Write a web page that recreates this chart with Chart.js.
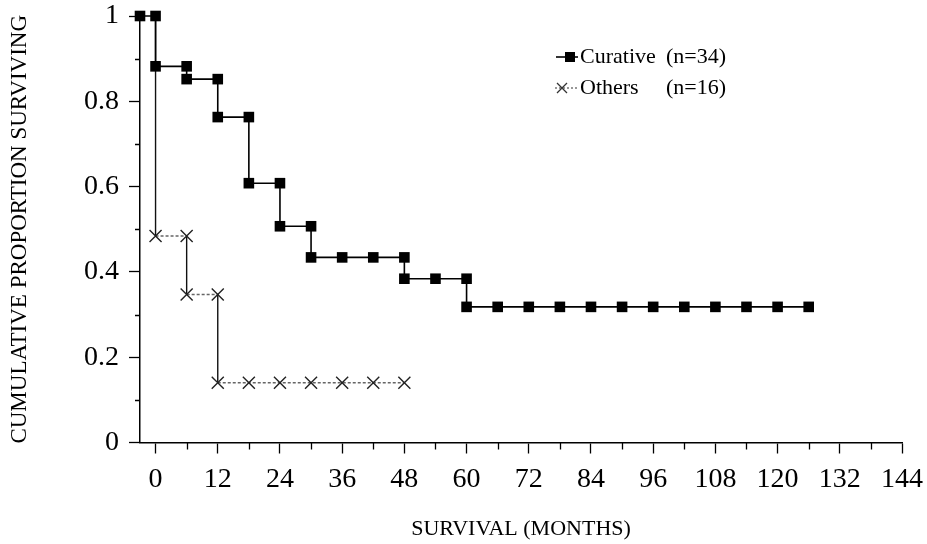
<!DOCTYPE html>
<html>
<head>
<meta charset="utf-8">
<title>Cumulative proportion surviving</title>
<script src="https://cdn.jsdelivr.net/npm/chart.js@4.4.1/dist/chart.umd.min.js"></script>
<style>
  html, body { margin: 0; padding: 0; background: #fff; }
  #wrap { width: 927px; height: 544px; }
</style>
</head>
<body>
<div id="wrap"><canvas id="survivalChart" width="927" height="544"></canvas></div>
<script>
// Kaplan-Meier steps: every drop is listed twice (before / after) so a marker sits on both corners
const curativeMonths = [-3, 0, 0, 6, 6, 12, 12, 18, 18, 24, 24, 30, 30, 36, 42, 48, 48, 54, 60, 60,
    66, 72, 78, 84, 90, 96, 102, 108, 114, 120, 126];
const curativeSurvival = [1, 1, 0.882, 0.882, 0.852, 0.852, 0.763, 0.763, 0.608, 0.608, 0.507, 0.507,
    0.434, 0.434, 0.434, 0.434, 0.384, 0.384, 0.384, 0.318,
    0.318, 0.318, 0.318, 0.318, 0.318, 0.318, 0.318, 0.318, 0.318, 0.318, 0.318];

const othersMonths = [0, 0, 6, 6, 12, 12, 18, 24, 30, 36, 42, 48];
const othersSurvival = [1, 0.484, 0.484, 0.347, 0.347, 0.14, 0.14, 0.14, 0.14, 0.14, 0.14, 0.14];

const legendLabels = ['Curative', 'Others'];
const legendCounts = ['(n=34)', '(n=16)'];

const xTickValues = [0, 6, 12, 18, 24, 30, 36, 42, 48, 54, 60, 66, 72, 78, 84, 90, 96, 102, 108,
    114, 120, 126, 132, 138, 144];
const yTickValues = [0, 0.1, 0.2, 0.3, 0.4, 0.5, 0.6, 0.7, 0.8, 0.9, 1];

const serif = '"Liberation Serif", "Times New Roman", serif';

function toPoints(xs, ys) {
    return xs.map((x, i) => ({ x: x, y: ys[i] }));
}

// short minor ticks (6 months / 0.1) that Chart.js can't size separately
const minorTicks = {
    id: 'minorTicks',
    afterDraw(chart) {
        const ctx = chart.ctx;
        const xs = chart.scales.x;
        const ys = chart.scales.y;
        ctx.save();
        ctx.strokeStyle = '#000';
        ctx.lineWidth = 1.3;
        ctx.beginPath();
        xTickValues.filter(v => v % 12 !== 0).forEach(v => {
            const px = Math.round(xs.getPixelForValue(v)) + 0.5;
            ctx.moveTo(px, xs.top);
            ctx.lineTo(px, xs.top + 7);
        });
        yTickValues.filter((v, i) => i % 2 === 1).forEach(v => {
            const py = Math.round(ys.getPixelForValue(v)) + 0.5;
            ctx.moveTo(ys.right - 5, py);
            ctx.lineTo(ys.right, py);
        });
        ctx.stroke();
        ctx.restore();
    }
};

// legend in the top right corner of the plot, like the original figure
const cornerLegend = {
    id: 'cornerLegend',
    afterDraw(chart) {
        const ctx = chart.ctx;
        ctx.save();
        ctx.font = '22px ' + serif;
        ctx.textBaseline = 'middle';
        ctx.fillStyle = '#000';
        legendLabels.forEach((label, i) => {
            const y = 57 + i * 31;
            if (i === 0) {
                ctx.strokeStyle = '#000';
                ctx.lineWidth = 1.6;
                ctx.beginPath();
                ctx.moveTo(556, y);
                ctx.lineTo(578, y);
                ctx.stroke();
                ctx.fillRect(565, y - 5, 10, 10);
            } else {
                ctx.strokeStyle = '#777';
                ctx.lineWidth = 1.3;
                ctx.setLineDash([2, 2]);
                ctx.beginPath();
                ctx.moveTo(555, y);
                ctx.lineTo(577, y);
                ctx.stroke();
                ctx.setLineDash([]);
                ctx.strokeStyle = '#333';
                ctx.beginPath();
                ctx.moveTo(557, y - 5);
                ctx.lineTo(567, y + 5);
                ctx.moveTo(567, y - 5);
                ctx.lineTo(557, y + 5);
                ctx.stroke();
            }
            ctx.fillText(label, 580, y);
            ctx.fillText(legendCounts[i], 666, y);
        });
        ctx.restore();
    }
};

function initChart() {
    let ctx = document.getElementById('survivalChart').getContext('2d');
    new Chart(ctx, {
        type: 'line',
        data: {
            datasets: [
                {
                    label: legendLabels[0],
                    data: toPoints(curativeMonths, curativeSurvival),
                    borderColor: '#000',
                    borderWidth: 1.6,
                    pointStyle: 'rect',
                    pointRadius: 7.5,
                    pointBackgroundColor: '#000',
                    pointBorderColor: '#000',
                    pointBorderWidth: 0,
                    clip: false,
                    order: 0
                },
                {
                    label: legendLabels[1],
                    data: toPoints(othersMonths, othersSurvival),
                    borderColor: '#666',
                    borderWidth: 1.4,
                    borderDash: [3, 2],
                    segment: {
                        // vertical drops print solid, the flat parts dotted
                        borderDash: c => c.p0.parsed.x === c.p1.parsed.x ? [] : [3, 2],
                        borderColor: c => c.p0.parsed.x === c.p1.parsed.x ? '#111' : '#666'
                    },
                    pointStyle: 'crossRot',
                    pointRadius: c => (c.raw && c.raw.y === 1) ? 0 : 8.5,
                    pointBorderColor: '#222',
                    pointBorderWidth: 1.4,
                    pointBackgroundColor: 'transparent',
                    clip: false,
                    order: 1
                }
            ]
        },
        options: {
            responsive: false,
            animation: false,
            events: [],
            layout: { padding: { top: 16, right: 25, left: 0, bottom: 0 } },
            plugins: {
                legend: { display: false },
                tooltip: { enabled: false }
            },
            scales: {
                x: {
                    type: 'linear',
                    min: -3,
                    max: 144,
                    afterBuildTicks: scale => { scale.ticks = xTickValues.map(v => ({ value: v })); },
                    afterFit: scale => {
                        scale.height = 101.5;
                        scale.paddingLeft = 0;
                        scale.paddingRight = 0;
                    },
                    border: { color: '#000', width: 1.5 },
                    grid: {
                        drawOnChartArea: false,
                        tickLength: 11,
                        tickWidth: 1.3,
                        tickColor: c => (c.tick && c.tick.value % 12 === 0) ? '#000' : 'rgba(0,0,0,0)'
                    },
                    ticks: {
                        autoSkip: false,
                        maxRotation: 0,
                        padding: 9,
                        color: '#000',
                        font: { family: serif, size: 28 },
                        callback: value => value % 12 === 0 ? String(value) : ''
                    },
                    title: {
                        display: true,
                        text: 'SURVIVAL (MONTHS)',
                        color: '#000',
                        font: { family: serif, size: 22 },
                        padding: { top: 0, bottom: 2 }
                    }
                },
                y: {
                    type: 'linear',
                    min: 0,
                    max: 1,
                    afterBuildTicks: scale => { scale.ticks = yTickValues.map(v => ({ value: v })); },
                    afterFit: scale => {
                        scale.width = 140;
                        scale.paddingTop = 0;
                        scale.paddingBottom = 0;
                    },
                    border: { color: '#000', width: 1.5 },
                    grid: {
                        drawOnChartArea: false,
                        tickLength: 11,
                        tickWidth: 1.3,
                        tickColor: c => c.index % 2 === 0 ? '#000' : 'rgba(0,0,0,0)'
                    },
                    ticks: {
                        padding: 10,
                        color: '#000',
                        font: { family: serif, size: 28 },
                        callback: (value, i) => i % 2 === 0 ? String(Math.round(value * 10) / 10) : ''
                    },
                    title: {
                        display: true,
                        text: 'CUMULATIVE PROPORTION SURVIVING',
                        color: '#000',
                        font: { family: serif, size: 23 },
                        padding: { top: 6, bottom: 0 }
                    }
                }
            }
        },
        plugins: [minorTicks, cornerLegend]
    });
}

window.onload = initChart;
</script>
</body>
</html>
